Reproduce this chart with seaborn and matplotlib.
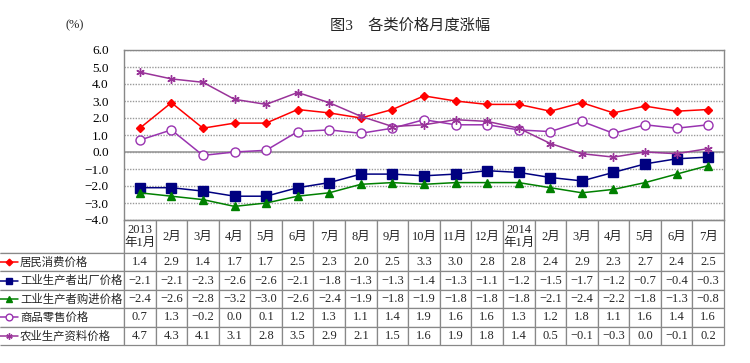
import numpy as np
import pandas as pd
import matplotlib
matplotlib.use('Agg')
import matplotlib.pyplot as plt
import seaborn as sns

# ---------------- 数据 ----------------
months = ['2013\n年1月', '2月', '3月', '4月', '5月', '6月', '7月', '8月', '9月', '10月',
          '11月', '12月', '2014\n年1月', '2月', '3月', '4月', '5月', '6月', '7月']

cpi = [1.4, 2.9, 1.4, 1.7, 1.7, 2.5, 2.3, 2.0, 2.5, 3.3, 3.0, 2.8, 2.8, 2.4, 2.9, 2.3, 2.7, 2.4, 2.5]
ppi_out = [-2.1, -2.1, -2.3, -2.6, -2.6, -2.1, -1.8, -1.3, -1.3, -1.4, -1.3, -1.1, -1.2, -1.5, -1.7, -1.2, -0.7, -0.4, -0.3]
ppi_in = [-2.4, -2.6, -2.8, -3.2, -3.0, -2.6, -2.4, -1.9, -1.8, -1.9, -1.8, -1.8, -1.8, -2.1, -2.4, -2.2, -1.8, -1.3, -0.8]
retail = [0.7, 1.3, -0.2, 0.0, 0.1, 1.2, 1.3, 1.1, 1.4, 1.9, 1.6, 1.6, 1.3, 1.2, 1.8, 1.1, 1.6, 1.4, 1.6]
agri = [4.7, 4.3, 4.1, 3.1, 2.8, 3.5, 2.9, 2.1, 1.5, 1.6, 1.9, 1.8, 1.4, 0.5, -0.1, -0.3, 0.0, -0.1, 0.2]

names = ['居民消费价格', '工业生产者出厂价格', '工业生产者购进价格', '商品零售价格', '农业生产资料价格']
series = [cpi, ppi_out, ppi_in, retail, agri]

# 样式
colors = ['#FF0000', '#000080', '#008000', '#9933B0', '#993399']
markers = ['D', 's', '^', 'o', (6, 2, 0)]
msizes = [4.5, 6.5, 6, 6.5, 6]
faces = ['#FF0000', '#000080', '#008000', 'white', '#993399']

sns.set_theme(style='white')
plt.rcParams['font.family'] = ['Liberation Serif', 'Noto Sans CJK SC']
plt.rcParams['axes.unicode_minus'] = True

W, H = 750, 363
ax_l, ax_r, ax_t, ax_b = 124, 724, 50, 220
fig = plt.figure(figsize=(W / 100, H / 100), dpi=100)
ax = fig.add_axes([ax_l / W, 1 - ax_b / H, (ax_r - ax_l) / W, (ax_b - ax_t) / H])

x = np.arange(len(months))
df = pd.DataFrame({n: v for n, v in zip(names, series)})
df['x'] = x

for n, c, m, ms, fc in zip(names, colors, markers, msizes, faces):
    sns.lineplot(data=df, x='x', y=n, ax=ax, color=c, marker=m, markersize=ms,
                 markerfacecolor=fc, markeredgecolor=c, markeredgewidth=1.0,
                 linewidth=1.1, legend=False)

ax.set_xlim(-0.5, len(months) - 0.5)
ax.set_ylim(-4, 6)
ax.set_yticks(np.arange(-4, 7, 1))
ax.set_yticklabels([f'{v:.1f}'.replace('-', '−') for v in np.arange(-4, 7, 1)], fontsize=9.5)
ax.set_xticks([])
ax.set_xlabel('')
ax.set_ylabel('')
ax.tick_params(axis='y', length=0, pad=11, colors='black')
ax.yaxis.grid(True, linestyle=(0, (1, 1)), color='#999999', linewidth=1.0)
ax.axhline(0, color='#999999', linewidth=1.2, zorder=1)
for sp in ax.spines.values():
    sp.set_color('#888888')
    sp.set_linewidth(1.0)

# ---------------- 数据表 ----------------
head_h, row_h = 33, 18.4
tab_bottom = ax_b + head_h + row_h * len(names)
pw, ph = ax_r - ax_l, ax_b - ax_t
lab_w = ax_l

def fmt(v):
    return f'{v:.1f}'.replace('-', '−')

cell_text = [[''] + [fmt(v) for v in vals] for vals in series]
tab = ax.table(cellText=cell_text, colLabels=[''] + months,
               colWidths=[lab_w / pw] + [1 / len(months)] * len(months),
               cellLoc='center',
               bbox=[-lab_w / pw, -(tab_bottom - ax_b) / ph, 1 + lab_w / pw, (tab_bottom - ax_b) / ph])
tab.auto_set_font_size(False)
tab.set_fontsize(9)
for (r, c), cell in tab.get_celld().items():
    cell.set_height(head_h if r == 0 else row_h)
    cell.set_edgecolor('#888888')
    cell.set_linewidth(0.9)
    if r == 0 and c == 0:
        cell.visible_edges = 'BR'
    elif c == 0:
        cell.visible_edges = 'BTR'

# 行标签及图例符号
for i, (n, c, m, ms, fc) in enumerate(zip(names, colors, markers, msizes, faces)):
    yc = (ax_b - (ax_b + head_h + row_h * (i + 0.5))) / ph
    x0, x1 = -lab_w / pw, (18 - ax_l) / pw
    ax.plot([x0, x1], [yc, yc], transform=ax.transAxes, clip_on=False, color=c, linewidth=1.1)
    ax.plot([(x0 + x1) / 2], [yc], transform=ax.transAxes, clip_on=False, color=c,
            marker=m, markersize=ms * 0.75, markerfacecolor=fc, markeredgecolor=c, markeredgewidth=1.0)
    ax.text((20 - ax_l) / pw, yc, n, transform=ax.transAxes, ha='left', va='center', fontsize=8.2)

# ---------------- 标题 ----------------
fig.text(410 / W, 1 - 26 / H, '图3　各类价格月度涨幅', ha='center', va='center', fontsize=11)
fig.text(75 / W, 1 - 25 / H, '(%)', ha='center', va='center', fontsize=9)

fig.savefig('out.png', dpi=100)
